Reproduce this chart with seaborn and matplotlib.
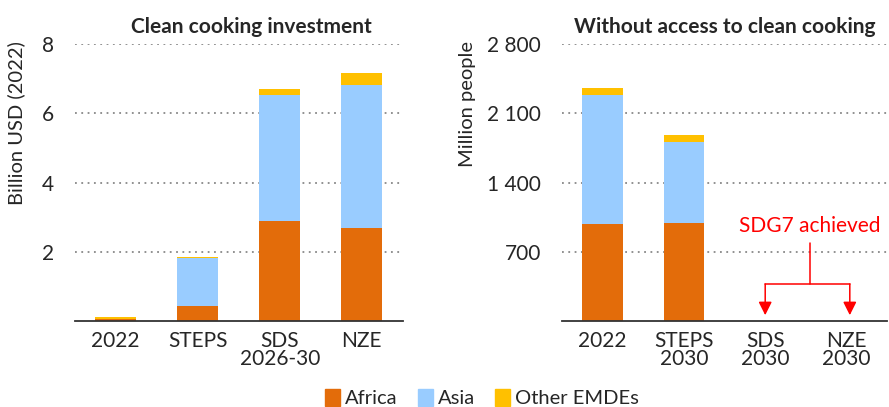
import matplotlib
matplotlib.use('Agg')
import matplotlib.pyplot as plt
import matplotlib.patches as mpatches
import seaborn as sns
import pandas as pd

# dados
cat_inv = ['2022', 'STEPS', 'SDS\n2026-30', 'NZE']
inv_africa = [0.06, 0.43, 2.89, 2.69]
inv_asia = [0.01, 1.39, 3.63, 4.13]
inv_other = [0.05, 0.03, 0.18, 0.35]

cat_pop = ['2022', 'STEPS\n2030', 'SDS\n2030', 'NZE\n2030']
pop_africa = [985, 990, 0, 0]
pop_asia = [1300, 822, 0, 0]
pop_other = [75, 68, 0, 0]

inv_ticks = [2, 4, 6, 8]
inv_ticklabels = ['2', '4', '6', '8']
pop_ticks = [700, 1400, 2100, 2800]
pop_ticklabels = ['700', '1 400', '2 100', '2 800']

regioes = ['Africa', 'Asia', 'Other EMDEs']
cores = {'Africa': '#E36C0A', 'Asia': '#99CCFF', 'Other EMDEs': '#FFC000'}

sns.set_style('white')
plt.rcParams['font.family'] = ['Lato', 'DejaVu Sans']


def barras_empilhadas(ax, categorias, africa, asia, other):
    df = pd.DataFrame({'cat': categorias, 'Africa': africa, 'Asia': asia, 'Other EMDEs': other})
    df['c1'] = df['Africa']
    df['c2'] = df['c1'] + df['Asia']
    df['c3'] = df['c2'] + df['Other EMDEs']
    # desenha do topo para a base, sobrepondo
    for col, reg in [('c3', 'Other EMDEs'), ('c2', 'Asia'), ('c1', 'Africa')]:
        sns.barplot(data=df, x='cat', y=col, color=cores[reg], width=0.5,
                    saturation=1, ax=ax, zorder=2, edgecolor='none')


def estilo(ax, ticks, ticklabels, ylim, ylabel, titulo, xlab, xtit):
    ax.set_ylim(0, ylim)
    ax.set_xlim(-0.5, 3.5)
    ax.set_yticks(ticks)
    ax.set_yticklabels(ticklabels)
    ax.yaxis.grid(True, linestyle=(0, (1, 2.5)), color='#888888', linewidth=1.3, zorder=0)
    ax.set_axisbelow(True)
    for s in ['top', 'right', 'left']:
        ax.spines[s].set_visible(False)
    ax.spines['bottom'].set_color('#333333')
    ax.spines['bottom'].set_linewidth(1.3)
    ax.tick_params(axis='y', length=0, labelsize=15, pad=15)
    ax.tick_params(axis='x', length=0, labelsize=15, pad=7)
    ax.set_xlabel('')
    ax.set_ylabel(ylabel, fontsize=14.5, loc='top')
    ax.yaxis.set_label_coords(xlab, 1.01)
    ax.set_title(titulo, fontsize=15, fontweight='bold', pad=8, x=xtit)


fig = plt.figure(figsize=(8.89, 4.07), dpi=100)
ax1 = fig.add_axes([0.084, 0.211, 0.369, 0.681])
ax2 = fig.add_axes([0.632, 0.211, 0.366, 0.681])

barras_empilhadas(ax1, cat_inv, inv_africa, inv_asia, inv_other)
estilo(ax1, inv_ticks, inv_ticklabels, 8, 'Billion USD (2022)', 'Clean cooking investment', -0.15, 0.54)

barras_empilhadas(ax2, cat_pop, pop_africa, pop_asia, pop_other)
estilo(ax2, pop_ticks, pop_ticklabels, 2800, 'Million people', 'Without access to clean cooking', -0.265, 0.5)
for lbl in ax1.get_xticklabels() + ax2.get_xticklabels():
    lbl.set_linespacing(0.9)

# anotação SDG7
vermelho = '#FF0000'
ax2.text(2.55, 960, 'SDG7 achieved', color=vermelho, fontsize=15, ha='center', va='center')
ax2.plot([2.55, 2.55], [790, 375], color=vermelho, lw=1.1)
ax2.plot([2, 3.04], [375, 375], color=vermelho, lw=1.1)
for xp in [2, 3.04]:
    ax2.annotate('', xy=(xp, 60), xytext=(xp, 375),
                 arrowprops=dict(arrowstyle='-|>', color=vermelho, lw=1.1,
                                 mutation_scale=20, shrinkA=0, shrinkB=0))

handles = [mpatches.Patch(color=cores[r], label=r) for r in regioes]
fig.legend(handles=handles, loc='lower center', bbox_to_anchor=(0.542, -0.045), ncol=3,
           frameon=False, fontsize=14.5, handlelength=0.75, handleheight=0.9,
           handletextpad=0.25, columnspacing=1.0)

fig.savefig('out.png', dpi=100)
